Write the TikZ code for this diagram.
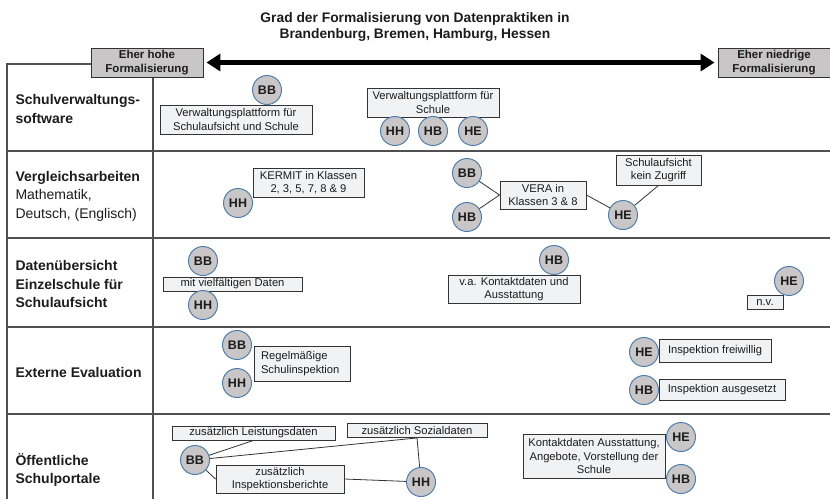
\documentclass[tikz,border=0pt]{standalone}
\usepackage{fontspec}
\setmainfont{Liberation Sans}
\usetikzlibrary{arrows.meta}
\definecolor{cgray}{HTML}{C8C6C6}
\definecolor{cblue}{HTML}{4F7FB0}
\definecolor{boxfill}{HTML}{F1F2F4}
\definecolor{boxline}{HTML}{333333}
\definecolor{tline}{HTML}{505050}
\definecolor{txt}{HTML}{1C1C1C}
\tikzset{
  circ/.style={circle, minimum size=29pt, inner sep=0pt, fill=cgray, draw=cblue, line width=1pt,
    font=\bfseries\fontsize{12.5}{14}\selectfont, text=txt},
  lbox/.style={rectangle, draw=boxline, fill=boxfill, line width=0.9pt, inner sep=0pt,
    font=\fontsize{11.2}{13.5}\selectfont, align=center, text=txt},
  hbox/.style={rectangle, draw=boxline, fill=cgray, line width=0.9pt, inner sep=0pt,
    minimum width=112pt, minimum height=29pt, font=\bfseries\fontsize{11.5}{13.5}\selectfont, align=center, text=txt},
  rowlab/.style={anchor=west, align=left, font=\fontsize{14}{18.5}\selectfont, text=txt},
  conn/.style={draw=boxline, line width=0.8pt},
  grid/.style={draw=tline, line width=1.2pt},
}
\begin{document}
\begin{tikzpicture}[x=1pt,y=-1pt]
\useasboundingbox (0,0) rectangle (830,499);
% title
\node[font=\bfseries\fontsize{13.8}{16.5}\selectfont, align=center, text=txt] (title) at (415,27)
  {Grad der Formalisierung von Datenpraktiken in\\Brandenburg, Bremen, Hamburg, Hessen};
% table grid
\draw[grid] (91,64) -- (7,64) -- (7,499);
\draw[grid] (153,77) -- (153,499);
\foreach \yy in {151,238,327,414} \draw[grid] (7,\yy) -- (830,\yy);
% header boxes and arrow
\node[hbox] (hoch) at (147,62.5) {Eher hohe\\Formalisierung};
\node[hbox] (niedrig) at (774,62.5) {Eher niedrige\\Formalisierung};
\draw[line width=5.5pt, shorten <=3pt, shorten >=3pt, {Triangle[length=14pt,width=17pt]}-{Triangle[length=14pt,width=17pt]}]
  (hoch.east) -- (niedrig.west);
% row labels
\node[rowlab] (r1) at (12,109) {\textbf{Schulverwaltungs-}\\\textbf{software}};
\node[rowlab] (r2) at (12,196) {\textbf{Vergleichsarbeiten}\\Mathematik,\\Deutsch, (Englisch)};
\node[rowlab] (r3) at (12,284) {\textbf{Datenübersicht}\\\textbf{Einzelschule für}\\\textbf{Schulaufsicht}};
\node[rowlab] (r4) at (12,372) {\textbf{Externe Evaluation}};
\node[rowlab] (r5) at (12,470) {\textbf{Öffentliche}\\\textbf{Schulportale}};
% row 1
\node[lbox, minimum width=152pt, minimum height=29pt] (vp1) at (236,119.5) {Verwaltungsplattform für\\Schulaufsicht und Schule};
\node[circ] (bb1) at (267,90) {BB};
\node[lbox, minimum width=132pt, minimum height=29pt] (vp2) at (433,102.5) {Verwaltungsplattform für\\Schule};
\node[circ] (hh1) at (395,131) {HH};
\node[circ] (hb1) at (433,131) {HB};
\node[circ] (he1) at (473,131) {HE};
% row 2
\node[lbox, minimum width=111pt, minimum height=29pt] (kermit) at (308.5,182.5) {KERMIT in Klassen\\2, 3, 5, 7, 8 \& 9};
\node[circ] (hh2) at (238,203) {HH};
\node[lbox, minimum width=86pt, minimum height=28pt] (vera) at (543,195) {VERA in\\Klassen 3 \& 8};
\node[circ] (bb2) at (467,173) {BB};
\node[circ] (hb2) at (467,217) {HB};
\node[circ] (he2) at (623,215) {HE};
\node[lbox, minimum width=85pt, minimum height=30pt] (sa) at (658.5,170) {Schulaufsicht\\kein Zugriff};
\draw[conn] (bb2) -- (vera.west);
\draw[conn] (hb2) -- (vera.west);
\draw[conn] (vera.east) -- (he2);
\draw[conn] (he2) -- (sa.south);
% row 3
\node[lbox, minimum width=139pt, minimum height=14pt] (mvd) at (232.5,284) {mit vielfältigen Daten};
\node[circ] (bb3) at (203,261) {BB};
\node[circ] (hh3) at (203,305) {HH};
\node[lbox, minimum width=132pt, minimum height=28pt] (va) at (514,289) {v.a. Kontaktdaten und\\Ausstattung};
\node[circ] (hb3) at (554,260) {HB};
\node[lbox, minimum width=36pt, minimum height=14pt] (nv) at (765,302) {n.v.};
\node[circ] (he3) at (789,281) {HE};
% row 4
\node[lbox, minimum width=96pt, minimum height=35pt, align=left, text width=82pt] (rsi) at (302,363.5) {Regelmäßige\\Schulinspektion};
\node[circ] (bb4) at (237,345) {BB};
\node[circ] (hh4) at (237,383) {HH};
\node[lbox, minimum width=112pt, minimum height=23pt] (ifr) at (715,350.5) {Inspektion freiwillig};
\node[circ] (he4) at (644,352) {HE};
\node[lbox, minimum width=126pt, minimum height=21pt] (ias) at (722,389.5) {Inspektion ausgesetzt};
\node[circ] (hb4) at (644,390) {HB};
% row 5
\node[lbox, minimum width=163pt, minimum height=14pt] (leist) at (253.5,433) {zusätzlich Leistungsdaten};
\node[lbox, minimum width=140pt, minimum height=14pt] (sozial) at (417,430.5) {zusätzlich Sozialdaten};
\node[lbox, minimum width=128pt, minimum height=28pt] (insp) at (280,479) {zusätzlich\\Inspektionsberichte};
\node[circ] (bb5) at (195,460) {BB};
\node[circ] (hh5) at (421,482) {HH};
\draw[conn] (bb5) -- (leist.south);
\draw[conn] (bb5) -- (sozial.south);
\draw[conn] (sozial.south) -- (hh5);
\draw[conn] (bb5) -- (insp.west);
\draw[conn] (insp.east) -- (hh5);
\node[lbox, minimum width=142pt, minimum height=44pt] (kd) at (594,456) {Kontaktdaten Ausstattung,\\Angebote, Vorstellung der\\Schule};
\node[circ] (he5) at (681,437) {HE};
\node[circ] (hb5) at (681,479) {HB};
\end{tikzpicture}
\end{document}
